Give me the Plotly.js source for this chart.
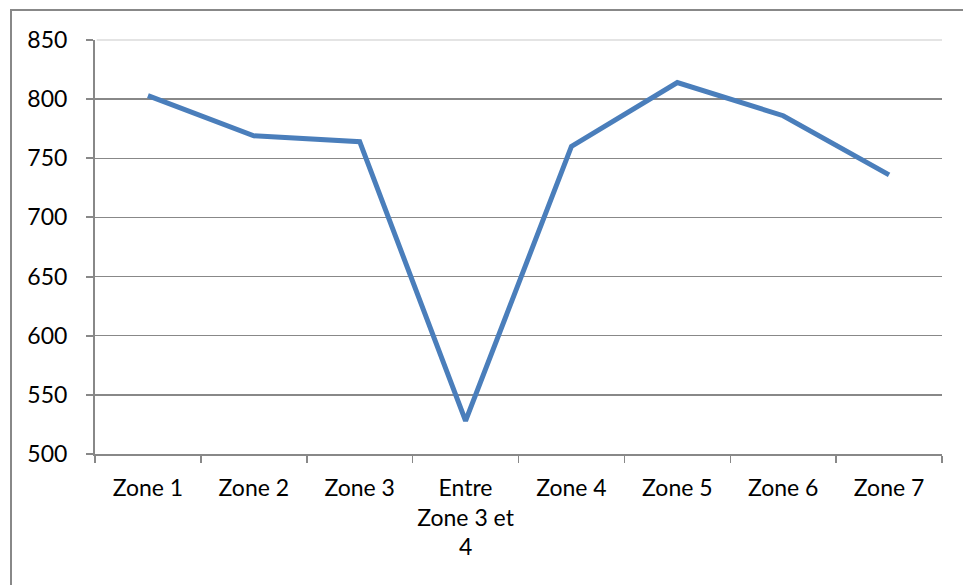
<!DOCTYPE html>
<html>
<head>
<meta charset="utf-8">
<script src="https://cdn.plot.ly/plotly-3.0.1.min.js"></script>
<style>
  html, body { margin: 0; padding: 0; background: #ffffff; overflow: hidden; }
  #frame { position: absolute; left: 10px; top: 9px; width: 1000px; height: 640px; border: 2px solid #888888; }
  #chart { position: absolute; left: 0; top: 0; width: 963px; height: 585px; }
</style>
</head>
<body>
<div id="frame"></div>
<div id="chart"></div>
<script>
const categories = ["Zone 1", "Zone 2", "Zone 3", "Entre<br>Zone 3 et<br>4", "Zone 4", "Zone 5", "Zone 6", "Zone 7"];
const values = [803, 769, 764, 528, 760, 814, 786, 736];
const yTicks = [500, 550, 600, 650, 700, 750, 800, 850];

const font = { family: "Lato, 'Open Sans', sans-serif", size: 23, color: "#000000" };

Plotly.newPlot("chart", [{
  type: "scatter",
  mode: "lines",
  x: categories,
  y: values,
  line: { color: "#4A7EBB", width: 5 },
  hoverinfo: "skip"
}], {
  width: 963,
  height: 585,
  margin: { l: 95, r: 21, t: 40, b: 131 },
  paper_bgcolor: "rgba(0,0,0,0)",
  plot_bgcolor: "rgba(0,0,0,0)",
  showlegend: false,
  font: font,
  xaxis: {
    type: "category",
    tickson: "boundaries",
    tickangle: 0,
    ticks: "outside",
    ticklen: 7,
    tickwidth: 1.5,
    tickcolor: "#888888",
    showline: true,
    linecolor: "#888888",
    linewidth: 2,
    showgrid: false,
    zeroline: false,
    tickfont: font,
    ticklabelstandoff: 12,
    range: [-0.5, 7.5]
  },
  yaxis: {
    range: [500, 850],
    tickvals: yTicks,
    ticktext: yTicks.map(String),
    ticks: "outside",
    ticklen: 7,
    tickwidth: 2,
    tickcolor: "#888888",
    showline: true,
    linecolor: "#888888",
    linewidth: 2,
    showgrid: true,
    gridcolor: "#888888",
    gridwidth: 1.5,
    zeroline: false,
    tickfont: font,
    ticklabelstandoff: 14
  },
  shapes: [{
    type: "line", xref: "paper", yref: "paper", x0: 0.002, x1: 1, y0: 1, y1: 1,
    line: { color: "#e4e4e4", width: 2 }, layer: "above"
  }]
}, { staticPlot: true, displayModeBar: false });
</script>
</body>
</html>
